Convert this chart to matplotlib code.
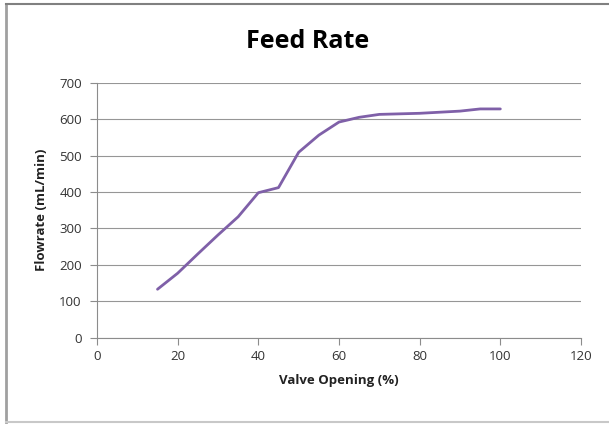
import matplotlib.pyplot as plt
from matplotlib.lines import Line2D

valve_opening = [15, 20, 25, 30, 35, 40, 45, 50, 55, 60, 65, 70, 80, 90, 95, 100]
flowrate = [133, 177, 230, 282, 332, 398, 412, 509, 556, 592, 605, 613, 616, 622, 628, 628]
x_ticks = [0, 20, 40, 60, 80, 100, 120]
y_ticks = [0, 100, 200, 300, 400, 500, 600, 700]

plt.rcParams['font.family'] = ['Open Sans', 'DejaVu Sans']

fig = plt.figure(figsize=(6.09, 4.24), dpi=100)
ax = fig.add_axes([97 / 609, 1 - 337.7 / 424, 484 / 609, 255 / 424])

ax.plot(valve_opening, flowrate, color="#7f60a8", lw=2.0, solid_capstyle="round")

ax.set_xlim(0, 120)
ax.set_ylim(0, 700)
ax.set_xticks(x_ticks)
ax.set_yticks(y_ticks)
ax.grid(axis="y", color="#969696", lw=0.8)
ax.set_axisbelow(True)

for s in ["top", "right"]:
    ax.spines[s].set_visible(False)
for s in ["left", "bottom"]:
    ax.spines[s].set_color("#8c8c8c")
    ax.spines[s].set_linewidth(0.8)
ax.tick_params(colors="#8c8c8c", length=5, width=0.8, labelsize=9.5, labelcolor="#333333")
ax.tick_params(axis="y", pad=6)
ax.tick_params(axis="x", pad=4)

# title is centred on the whole chart area, not the plot area
fig.text(308 / 609, 1 - 42 / 424, "Feed Rate", fontsize=18, fontweight="bold",
         ha="center", va="center")
ax.set_xlabel("Valve Opening (%)", fontsize=9.5, fontweight="bold", labelpad=8, color="#222222")
ax.set_ylabel("Flowrate (mL/min)", fontsize=9.5, fontweight="bold", labelpad=8, color="#222222")

# outer chart frame
fig.add_artist(Line2D([6 / 609, 6 / 609], [1 - 4 / 424, 1 - 422 / 424], color="#a0a0a0", lw=2))
fig.add_artist(Line2D([6 / 609, 1], [1 - 4 / 424, 1 - 4 / 424], color="#808080", lw=1.5))
fig.add_artist(Line2D([6 / 609, 1], [1 - 422 / 424, 1 - 422 / 424], color="#c8c8c8", lw=1.5))

fig.savefig("out.png", dpi=100)
